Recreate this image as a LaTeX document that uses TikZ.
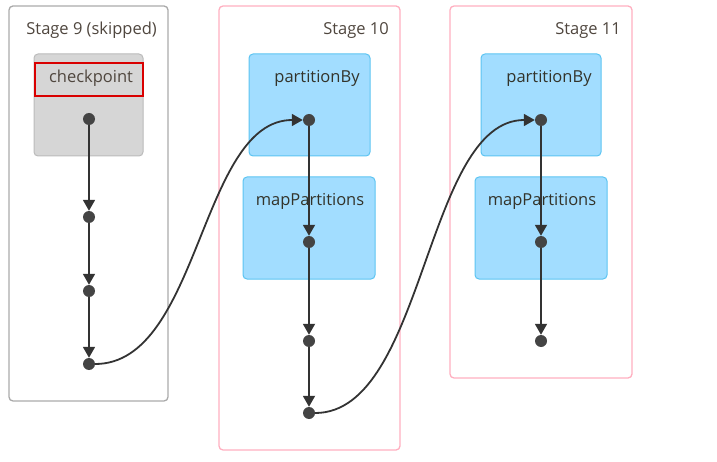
\documentclass[tikz,border=0pt]{standalone}
\usepackage{fontspec}
\setmainfont{Open Sans}
\usetikzlibrary{arrows.meta}
\definecolor{stagegray}{HTML}{AAAAAA}
\definecolor{stagepink}{HTML}{FFAFC0}
\definecolor{skipfill}{HTML}{D6D6D6}
\definecolor{skipdraw}{HTML}{BBBBBB}
\definecolor{opfill}{HTML}{A2DDFF}
\definecolor{opdraw}{HTML}{5CC4F2}
\definecolor{titletext}{HTML}{4F463E}
\definecolor{optext}{HTML}{33332A}
\definecolor{edgecol}{HTML}{333333}
\definecolor{dotcol}{HTML}{444444}
\tikzset{
  stagebox/.style={draw, rounded corners=4pt, line width=1.3pt},
  opbox/.style={draw=opdraw, fill=opfill, rounded corners=4pt, line width=1pt},
  skipbox/.style={draw=skipdraw, fill=skipfill, rounded corners=4pt, line width=1pt},
  titlelbl/.style={text=titletext, font=\fontsize{16.5}{19}\selectfont, inner sep=0pt},
  oplbl/.style={text=optext, font=\fontsize{16.5}{19}\selectfont, inner sep=0pt},
  rdddot/.style={circle, fill=dotcol, inner sep=0pt, minimum size=12pt},
  flow/.style={draw=edgecol, line width=1.8pt, -{Triangle[length=11pt,width=12pt]}},
}
\begin{document}
\begin{tikzpicture}[x=1pt,y=-1pt]
\useasboundingbox (0,0) rectangle (717,462);
% Stage 9
\draw[stagebox, draw=stagegray] (9,6) rectangle (168,401);
\node[titlelbl, anchor=base east] (t9) at (157,35) {Stage 9 (skipped)};
\draw[skipbox] (34,54) rectangle (143,156);
\draw[draw=red!85!black, line width=1.6pt] (35,63) rectangle (143,96);
\node[oplbl, text=titletext, anchor=base] (cp) at (91,83) {checkpoint};
% Stage 10
\draw[stagebox, draw=stagepink] (219,6) rectangle (400,450);
\node[titlelbl, anchor=base east] (t10) at (389,35) {Stage 10};
\draw[opbox] (249,54) rectangle (370,156);
\node[oplbl, anchor=base] (pb10) at (317,83) {partitionBy};
\draw[opbox] (243,177) rectangle (375,279);
\node[oplbl, anchor=base] (mp10) at (310,206) {mapPartitions};
% Stage 11
\draw[stagebox, draw=stagepink] (450,6) rectangle (632,378);
\node[titlelbl, anchor=base east] (t11) at (621,35) {Stage 11};
\draw[opbox] (481,54) rectangle (601,156);
\node[oplbl, anchor=base] (pb11) at (549,83) {partitionBy};
\draw[opbox] (475,177) rectangle (607,279);
\node[oplbl, anchor=base] (mp11) at (542,206) {mapPartitions};
% dots
\node[rdddot] (a1) at (89,119) {};
\node[rdddot] (a2) at (89,217) {};
\node[rdddot] (a3) at (89,291) {};
\node[rdddot] (a4) at (89,364) {};
\node[rdddot] (b1) at (309,120) {};
\node[rdddot] (b2) at (309,242) {};
\node[rdddot] (b3) at (309,341) {};
\node[rdddot] (b4) at (309,413) {};
\node[rdddot] (c1) at (541,120) {};
\node[rdddot] (c2) at (541,242) {};
\node[rdddot] (c3) at (541,341) {};
% edges
\draw[flow] (a1) -- (a2);
\draw[flow] (a2) -- (a3);
\draw[flow] (a3) -- (a4);
\draw[flow] (b1) -- (b2);
\draw[flow] (b2) -- (b3);
\draw[flow] (b3) -- (b4);
\draw[flow] (c1) -- (c2);
\draw[flow] (c2) -- (c3);
\draw[flow] (a4.east) .. controls (200,364) and (200,120) .. (b1.west);
\draw[flow] (b4.east) .. controls (425,413) and (425,120) .. (c1.west);
\end{tikzpicture}
\end{document}
